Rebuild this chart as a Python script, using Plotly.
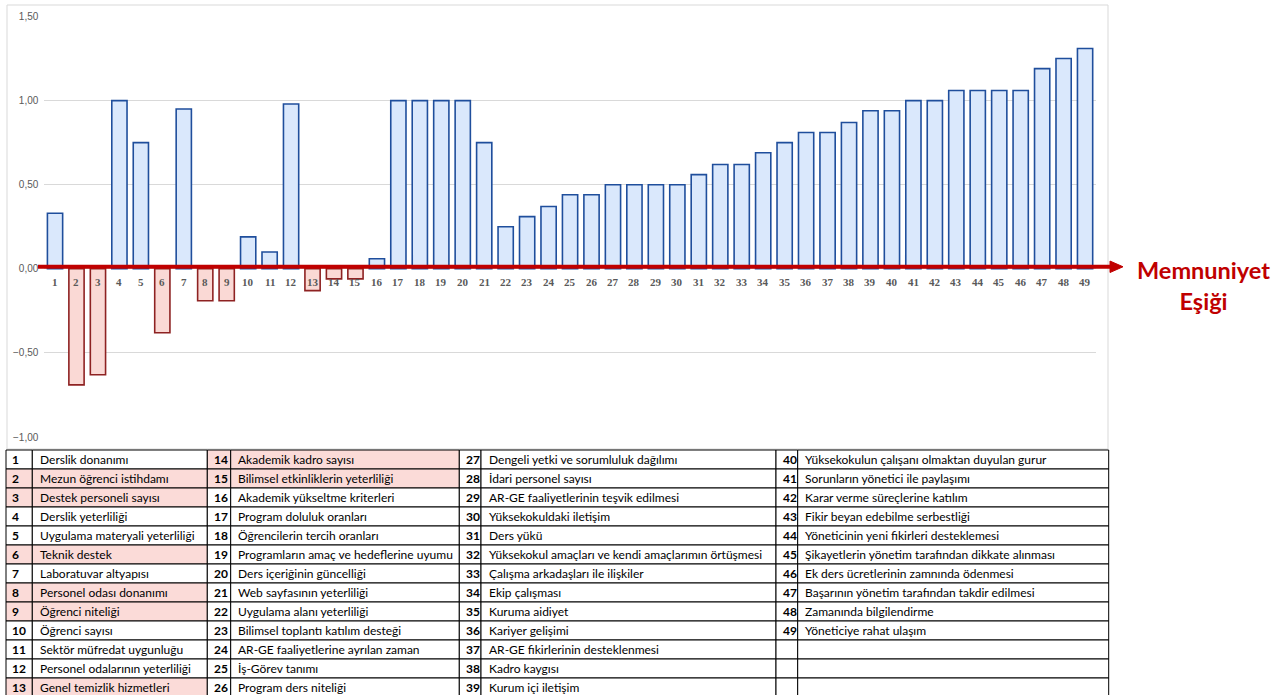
import plotly.graph_objects as go

# ---------------- data ----------------
categories = list(range(1, 50))
values = [0.33, -0.69, -0.63, 1.00, 0.75, -0.38, 0.95, -0.19, -0.19, 0.19,
          0.10, 0.98, -0.13, -0.06, -0.06, 0.06, 1.00, 1.00, 1.00, 1.00,
          0.75, 0.25, 0.31, 0.37, 0.44, 0.44, 0.50, 0.50, 0.50, 0.50,
          0.56, 0.62, 0.62, 0.69, 0.75, 0.81, 0.81, 0.87, 0.94, 0.94,
          1.00, 1.00, 1.06, 1.06, 1.06, 1.06, 1.19, 1.25, 1.31]
item_names = [
    "Derslik donanımı", "Mezun öğrenci istihdamı", "Destek personeli sayısı",
    "Derslik yeterliliği", "Uygulama materyali yeterliliği", "Teknik destek",
    "Laboratuvar altyapısı", "Personel odası donanımı", "Öğrenci niteliği",
    "Öğrenci sayısı", "Sektör müfredat uygunluğu", "Personel odalarının yeterliliği",
    "Genel temizlik hizmetleri", "Akademik kadro sayısı",
    "Bilimsel etkinliklerin yeterliliği", "Akademik yükseltme kriterleri",
    "Program doluluk oranları", "Öğrencilerin tercih oranları",
    "Programların amaç ve hedeflerine uyumu", "Ders içeriğinin güncelliği",
    "Web sayfasının yeterliliği", "Uygulama alanı yeterliliği",
    "Bilimsel toplantı katılım desteği", "AR-GE faaliyetlerine ayrılan zaman",
    "İş-Görev tanımı", "Program ders niteliği",
    "Dengeli yetki ve sorumluluk dağılımı", "İdari personel sayısı",
    "AR-GE faaliyetlerinin teşvik edilmesi", "Yüksekokuldaki iletişim",
    "Ders yükü", "Yüksekokul amaçları ve kendi amaçlarımın örtüşmesi",
    "Çalışma arkadaşları ile ilişkiler", "Ekip çalışması", "Kuruma aidiyet",
    "Kariyer gelişimi", "AR-GE fikirlerinin desteklenmesi", "Kadro kaygısı",
    "Kurum içi iletişim", "Yüksekokulun çalışanı olmaktan duyulan gurur",
    "Sorunların yönetici ile paylaşımı", "Karar verme süreçlerine katılım",
    "Fikir beyan edebilme serbestliği", "Yöneticinin yeni fikirleri desteklemesi",
    "Şikayetlerin yönetim tarafından dikkate alınması",
    "Ek ders ücretlerinin zamnında ödenmesi",
    "Başarının yönetim tarafından takdir edilmesi", "Zamanında bilgilendirme",
    "Yöneticiye rahat ulaşım"]
y_ticks = [-1.0, -0.5, 0.0, 0.5, 1.0, 1.5]
threshold_label = "Memnuniyet<br>Eşiği"

# ---------------- style ----------------
W, H = 1282, 695
PL, PR, PT, PB = 44.3, 1095.8, 16.5, 437.0
POS_FILL, POS_LINE = "#dae8fc", "#1f4e9c"
NEG_FILL, NEG_LINE = "#fad9d5", "#8e2222"
PINK = "#fbdbd8"
RED = "#c00000"

def px(x):
    return x / W

def py(y):
    return (H - y) / H

fill_colors = [POS_FILL if v >= 0 else NEG_FILL for v in values]
line_colors = [POS_LINE if v >= 0 else NEG_LINE for v in values]

fig = go.Figure()
fig.add_trace(go.Bar(
    x=categories, y=values,
    marker=dict(color=fill_colors, line=dict(color=line_colors, width=1.6)),
    hoverinfo="x+y", showlegend=False,
))

annotations = []
shapes = []

# ---------------- table (drawn cell by cell) ----------------
rows_per_col = 13
col_edges = [6, 32.3, 207.3, 230.7, 459.3, 481, 776, 797.7, 1108.7]
text_pad = [4, 6, 5, 5, 5, 6, 5, 5]
table_top = 450.0
row_h = 19.0
for gi in range(4):
    for k in range(rows_per_col):
        idx = gi * rows_per_col + k
        has = idx < len(item_names)
        fill = PINK if (has and values[idx] < 0) else "white"
        y0 = table_top + k * row_h
        y1 = y0 + row_h
        for j in range(2):
            c = gi * 2 + j
            shapes.append(dict(type="rect", xref="paper", yref="paper",
                               x0=px(col_edges[c]), x1=px(col_edges[c + 1]),
                               y0=py(y1), y1=py(y0), fillcolor=fill,
                               line=dict(color="black", width=1), layer="above"))
            if has:
                txt = "<b>%d</b>" % categories[idx] if j == 0 else item_names[idx]
                annotations.append(dict(x=px(col_edges[c] + text_pad[c]),
                                        y=py((y0 + y1) / 2), xref="paper", yref="paper",
                                        text=txt, showarrow=False, xanchor="left",
                                        yanchor="middle",
                                        font=dict(family="Lato", size=12, color="black")))

# x labels next to the zero line
for c in categories:
    annotations.append(dict(x=c, y=0, xref="x", yref="y", yshift=-13,
                            text="<b>%d</b>" % c, showarrow=False,
                            font=dict(family="Liberation Serif", size=11, color="#595959")))
annotations.append(dict(x=px(1203), y=py(285), xref="paper", yref="paper",
                        text="<b>%s</b>" % threshold_label.replace("<br>", "</b><br><b>"),
                        showarrow=False, xanchor="center", yanchor="middle",
                        font=dict(family="Lato", size=23.5, color=RED)))

yoff = 0.012
shapes = [
    dict(type="rect", xref="paper", yref="paper", x0=px(7), x1=px(1108),
         y0=py(449), y1=py(5), line=dict(color="#d9d9d9", width=1),
         layer="below"),
    dict(type="line", xref="paper", yref="y", x0=px(38), x1=px(1113),
         y0=yoff, y1=yoff, line=dict(color=RED, width=4), layer="above"),
    dict(type="path", xref="paper", yref="y",
         path="M %f,%f L %f,%f L %f,%f Z" % (px(1110), yoff + 0.034, px(1123), yoff,
                                             px(1110), yoff - 0.034),
         fillcolor=RED, line=dict(color=RED, width=1), layer="above"),
] + shapes

fig.update_layout(
    width=W, height=H, autosize=False,
    margin=dict(l=0, r=0, t=0, b=0, pad=0, autoexpand=False),
    paper_bgcolor="white", plot_bgcolor="white",
    separators=",.",
    bargap=0.29,
    showlegend=False,
    annotations=annotations,
    shapes=shapes,
    xaxis=dict(domain=[px(PL), px(PR)], range=[0.5, 49.5], showticklabels=False,
               showgrid=False, zeroline=False, showline=False, ticks="",
               automargin=False),
    yaxis=dict(domain=[py(PB), py(PT)], range=[-1, 1.5],
               tickvals=y_ticks, tickformat=".2f", showgrid=True,
               gridcolor="#d9d9d9", gridwidth=1, zeroline=False, showline=False,
               ticks="", ticklabelstandoff=5, automargin=False,
               tickfont=dict(family="Liberation Sans", size=10, color="#595959")),
)

fig.write_html("out.html", config={"displayModeBar": False},
               post_script="document.body.style.margin='0';")
